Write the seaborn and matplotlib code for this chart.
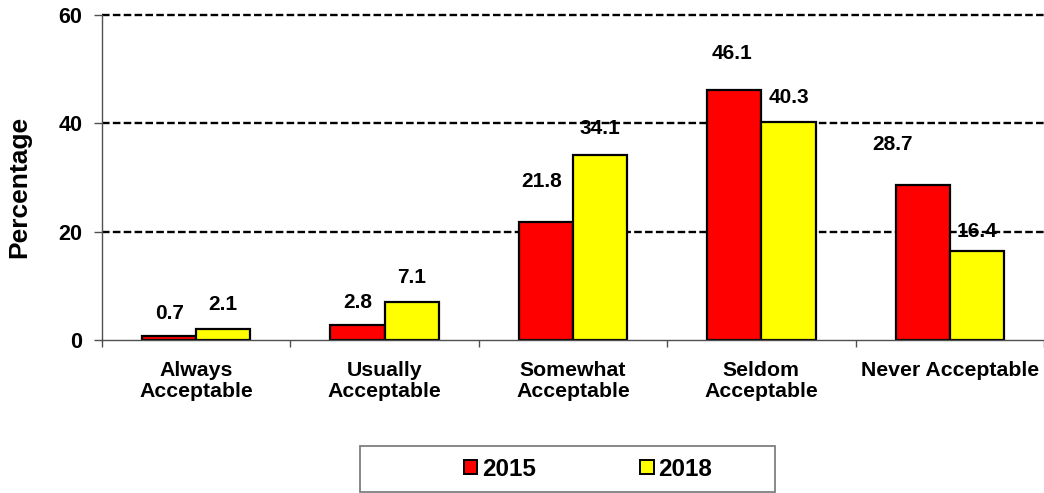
import matplotlib
matplotlib.use("Agg")
import matplotlib.pyplot as plt
from matplotlib.patches import Rectangle
import pandas as pd
import seaborn as sns

# Responses by category for the two survey years
categories = ["Always\nAcceptable", "Usually\nAcceptable", "Somewhat\nAcceptable",
              "Seldom\nAcceptable", "Never Acceptable"]
years = ["2015", "2018"]
values_2015 = [0.7, 2.8, 21.8, 46.1, 28.7]
values_2018 = [2.1, 7.1, 34.1, 40.3, 16.4]
y_ticks = [0, 20, 40, 60]

# Label placement relative to each bar top (pixels: dx, dy)
label_shift = {
    "2015": [(0, 23), (0, 22), (-4, 40), (-2, 37), (-30, 40)],
    "2018": [(0, 24), (0, 24), (0, 27), (0, 24), (0, 20)],
}

df = pd.DataFrame({
    "category": categories * 2,
    "year": [years[0]] * len(categories) + [years[1]] * len(categories),
    "value": values_2015 + values_2018,
})

sns.set_style("white")
plt.rcParams["font.family"] = ["Liberation Sans", "DejaVu Sans"]
plt.rcParams.update({
    "font.weight": "bold",
    "text.color": "black",
    "axes.labelcolor": "black",
    "xtick.labelcolor": "black",
    "ytick.labelcolor": "black",
})

fig = plt.figure(figsize=(10.44, 4.93), dpi=100)
ax = fig.add_axes([102 / 1044, 1 - 340 / 493, 942 / 1044, 325 / 493])

palette = {"2015": "#FF0000", "2018": "#FFFF00"}
sns.barplot(data=df, x="category", y="value", hue="year", order=categories,
            hue_order=years, palette=palette, width=0.575, gap=0,
            edgecolor="black", linewidth=1.6, saturation=1, ax=ax,
            legend=False, zorder=3)

ax.set_xlim(-0.5, len(categories) - 0.5)
ax.set_ylim(0, 60)
ax.set_yticks(y_ticks)
ax.set_yticklabels([str(t) for t in y_ticks], fontsize=15.5, fontweight="bold")

# dashed reference lines
for t in y_ticks[1:]:
    ax.axhline(t, color="black", linestyle=(0, (3.2, 1.4)), linewidth=1.7,
               zorder=1, clip_on=False)

ax.set_xticks(range(len(categories)))
ax.set_xticklabels(categories, fontsize=15.3, fontweight="bold", linespacing=1.12)
ax.set_xticks([i - 0.5 for i in range(len(categories) + 1)], minor=True)
ax.tick_params(axis="x", which="major", length=0, pad=15)
ax.tick_params(axis="x", which="minor", length=5, width=1, color="#505050",
               direction="out", bottom=True)
ax.tick_params(axis="y", which="major", length=6, width=1, color="#505050",
               direction="out", left=True, pad=8)

for side in ("top", "right"):
    ax.spines[side].set_visible(False)
for side in ("left", "bottom"):
    ax.spines[side].set_color("#505050")
    ax.spines[side].set_linewidth(1.0)
    ax.spines[side].set_zorder(4)

ax.set_xlabel("")
ax.set_ylabel("Percentage", fontsize=19, fontweight="bold")
ax.yaxis.set_label_coords(-0.075, 0.47)

# value labels above the bars
for year, container in zip(years, ax.containers):
    for bar, (dx, dy) in zip(container, label_shift[year]):
        ax.annotate(f"{bar.get_height():.1f}",
                    (bar.get_x() + bar.get_width() / 2, bar.get_height()),
                    xytext=(dx, dy), textcoords="offset pixels",
                    ha="center", va="center", fontsize=15,
                    fontweight="bold", zorder=5)

# legend with its own frame
handles = [Rectangle((0, 0), 1, 1, facecolor=palette[y], edgecolor="black",
                     linewidth=1.4) for y in years]
fig.legend(handles, years, loc="center", bbox_to_anchor=(588 / 1044, 1 - 469 / 493),
           ncol=2, frameon=False, handlelength=0.55, handleheight=0.55,
           handletextpad=0.2, columnspacing=4.3,
           prop={"size": 17.5, "weight": "bold"})
fig.patches.append(Rectangle((360 / 1044, 1 - 492 / 493), 415 / 1044, 46 / 493,
                             transform=fig.transFigure, facecolor="none",
                             edgecolor="#7f7f7f", linewidth=1.3))

fig.savefig("out.png", dpi=100)
